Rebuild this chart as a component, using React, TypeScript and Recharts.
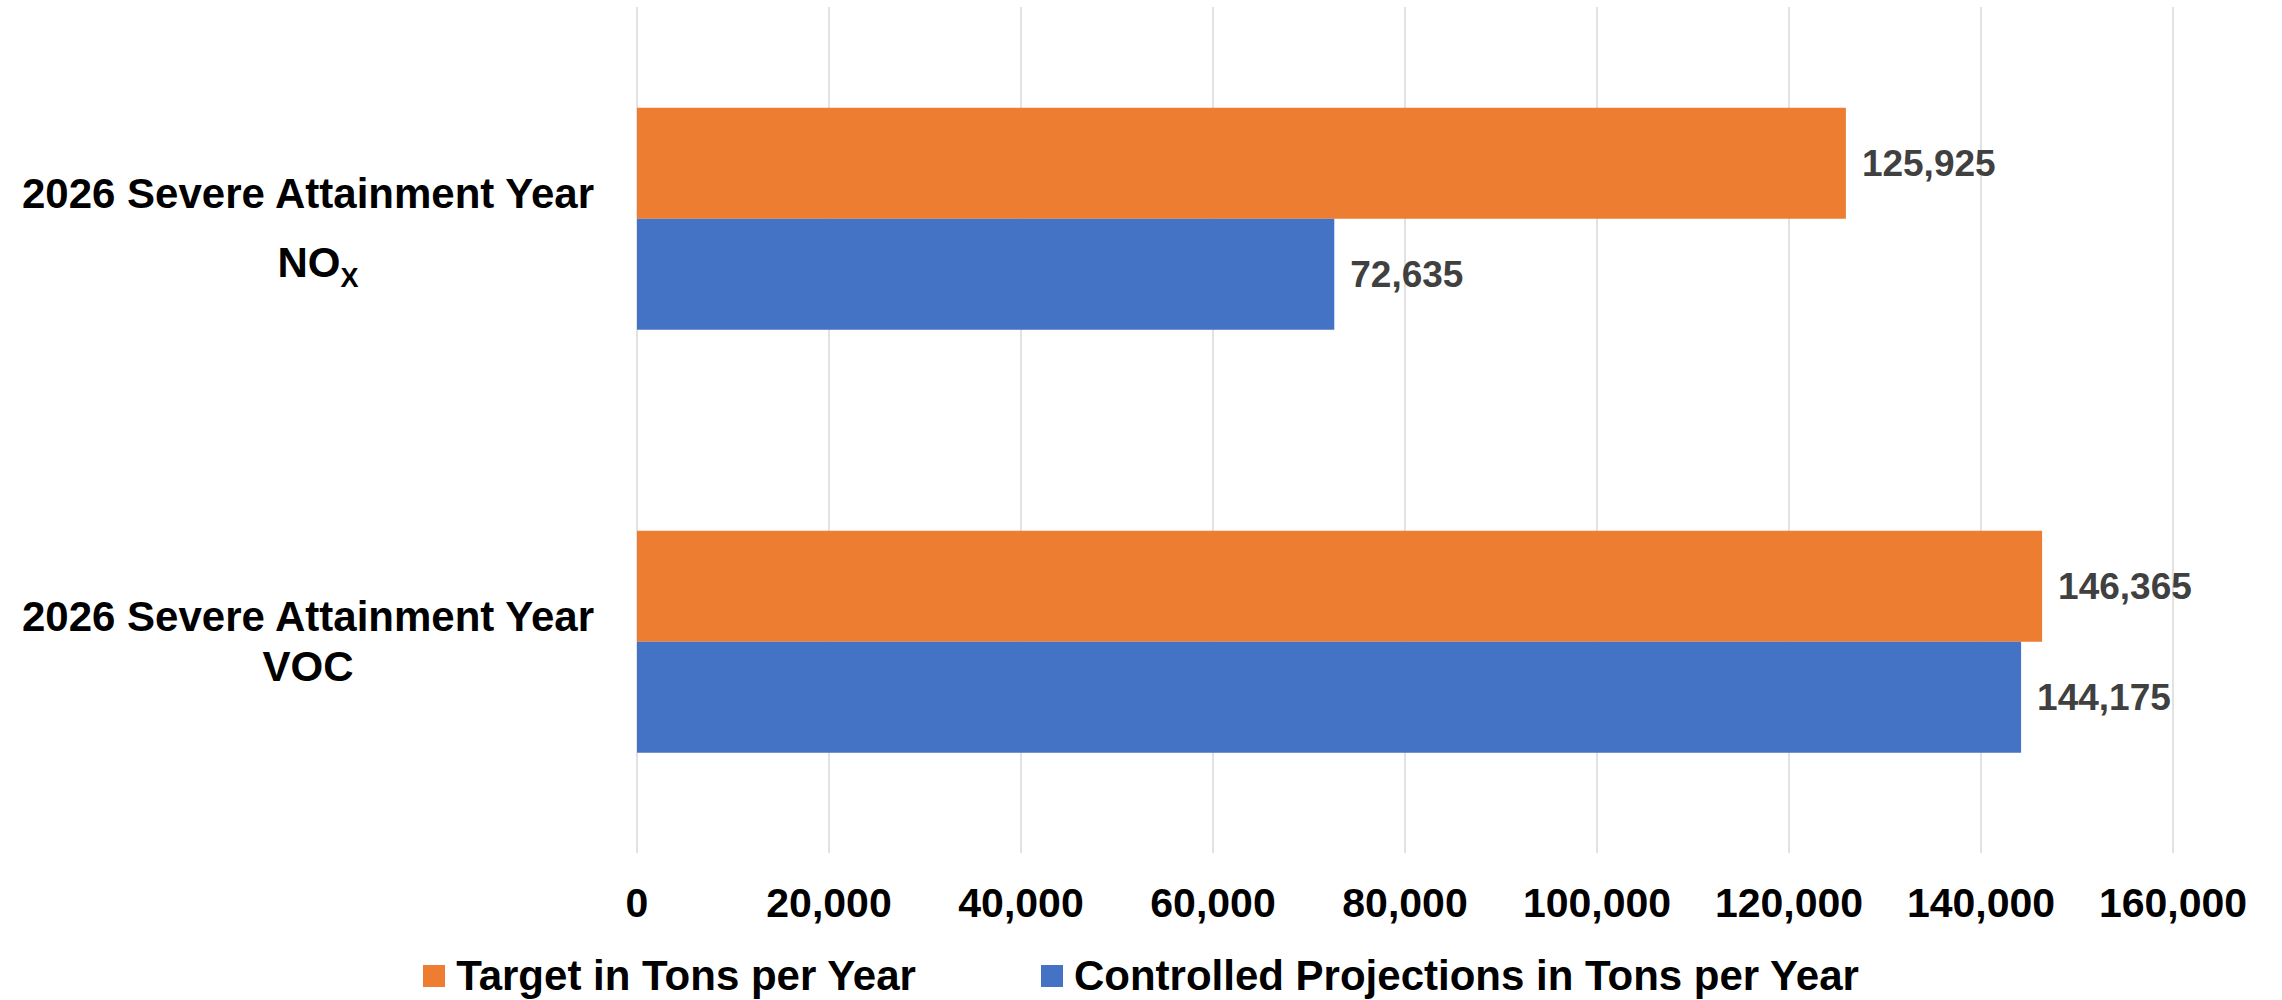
import React from "react";
import { BarChart, Bar, XAxis, YAxis, CartesianGrid, Legend, LabelList } from "recharts";

const categories = ["2026 Severe Attainment Year NOX", "2026 Severe Attainment Year VOC"];
const categoryLine1 = ["2026 Severe Attainment Year", "2026 Severe Attainment Year"];
const categoryLine2 = ["NO", "VOC"];
const categorySub = ["X", ""];
const targetValues = [125925, 146365];
const controlledValues = [72635, 144175];
const xTicks = [0, 20000, 40000, 60000, 80000, 100000, 120000, 140000, 160000];
const seriesNames = ["Target in Tons per Year", "Controlled Projections in Tons per Year"];
const seriesColors = ["#ED7D31", "#4472C4"];

const FONT = "'Liberation Sans', Arial, Helvetica, sans-serif";

const data = categories.map((c, i) => ({
  name: c,
  target: targetValues[i],
  controlled: controlledValues[i],
}));

const fmt = (v: number) => v.toLocaleString("en-US");

const CategoryTick = (props: any) => {
  const { x, y, payload } = props;
  const idx = categories.indexOf(payload.value);
  const sub = categorySub[idx];
  const cx = x - 290;
  return (
    <g>
      <text
        x={cx}
        y={y - 11}
        textAnchor="middle"
        fontFamily={FONT}
        fontWeight="bold"
        fontSize={42}
        fill="#000"
      >
        {categoryLine1[idx]}
      </text>
      <text
        x={cx + (sub ? 10 : 0)}
        y={y + (sub ? 58 : 39)}
        textAnchor="middle"
        fontFamily={FONT}
        fontWeight="bold"
        fontSize={42}
        fill="#000"
      >
        {categoryLine2[idx]}
        {sub ? (
          <tspan fontSize={27} dy={10}>
            {sub}
          </tspan>
        ) : null}
      </text>
    </g>
  );
};

const LegendContent = () => (
  <div
    style={{
      display: "flex",
      justifyContent: "center",
      alignItems: "center",
      fontFamily: FONT,
      fontWeight: "bold",
      fontSize: 42,
      color: "#000",
      height: 57,
      paddingTop: 8,
      boxSizing: "border-box",
      lineHeight: 1,
      width: 2282,
    }}
  >
    {seriesNames.map((n, i) => (
      <div
        key={n}
        style={{ display: "flex", alignItems: "center", marginRight: i === 0 ? 125 : 0 }}
      >
        <div style={{ width: 22, height: 22, background: seriesColors[i], marginRight: 11 }} />
        <span>{n}</span>
      </div>
    ))}
  </div>
);

export default function App() {
  return (
    <div style={{ position: "absolute", left: 0, top: 0, width: 2282, height: 1000, background: "#fff" }}>
      <BarChart
        width={2282}
        height={1000}
        data={data}
        layout="vertical"
        margin={{ top: 7, right: 109, bottom: 0, left: 0 }}
        barCategoryGap="23.8%"
        barGap={0}
        style={{ fontFamily: FONT }}
      >
        <CartesianGrid horizontal={false} vertical={true} stroke="#d9d9d9" strokeWidth={1.5} />
        <XAxis
          type="number"
          domain={[0, 160000]}
          ticks={xTicks}
          tickFormatter={fmt}
          axisLine={false}
          tickLine={false}
          tickSize={0}
          tickMargin={35}
          height={90}
          interval={0}
          tick={{ fontSize: 41, fontWeight: "bold", fill: "#000", fontFamily: FONT }}
        />
        <YAxis
          type="category"
          dataKey="name"
          width={637}
          axisLine={false}
          tickLine={false}
          tickSize={0}
          tickMargin={39}
          tick={<CategoryTick />}
        />
        <Legend
          verticalAlign="bottom"
          height={57}
          wrapperStyle={{ left: 0, width: 2282 }}
          content={<LegendContent />}
        />
        <Bar dataKey="target" name={seriesNames[0]} fill={seriesColors[0]} isAnimationActive={false}>
          <LabelList
            dataKey="target"
            position="right"
            offset={16}
            formatter={(v: any) => fmt(Number(v))}
            style={{ fontSize: 37, fontWeight: "bold", fill: "#404040", fontFamily: FONT }}
          />
        </Bar>
        <Bar dataKey="controlled" name={seriesNames[1]} fill={seriesColors[1]} isAnimationActive={false}>
          <LabelList
            dataKey="controlled"
            position="right"
            offset={16}
            formatter={(v: any) => fmt(Number(v))}
            style={{ fontSize: 37, fontWeight: "bold", fill: "#404040", fontFamily: FONT }}
          />
        </Bar>
      </BarChart>
    </div>
  );
}
